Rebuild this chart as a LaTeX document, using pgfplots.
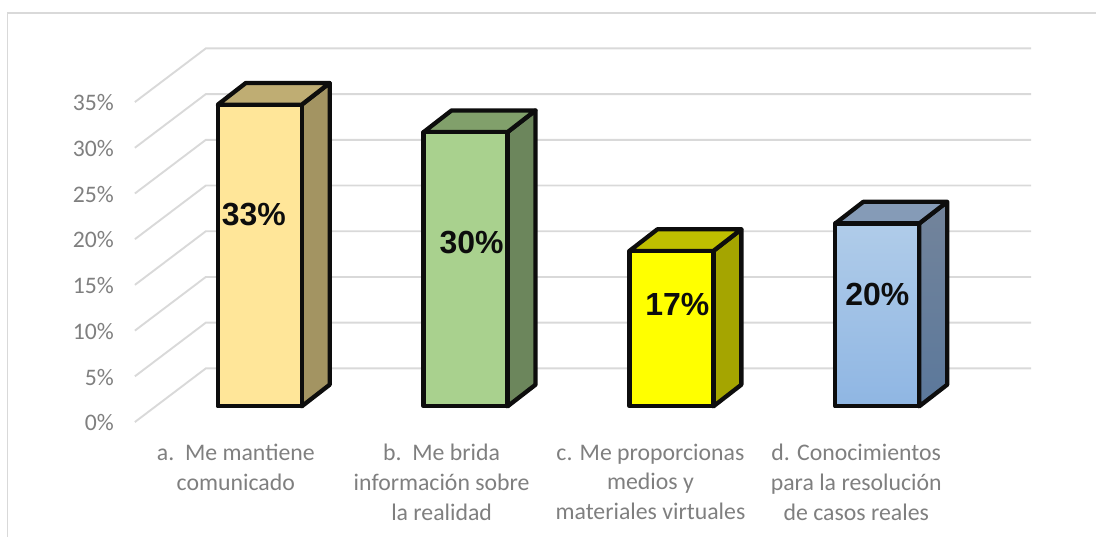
\documentclass[border=0pt]{standalone}
\usepackage{pgfplots}
\pgfplotsset{compat=1.18}
\usepackage{fontspec}
\setmainfont{Carlito}
\newfontfamily\arialb{Liberation Sans}[Scale=1]
\definecolor{gridc}{HTML}{D9D9D9}
\definecolor{ticktxt}{HTML}{7F7F7F}
\definecolor{edge}{HTML}{0D0D0D}
\begin{document}
\begin{tikzpicture}
\begin{axis}[
  at={(0,0)}, anchor=south west,
  scale only axis, width=1097pt, height=537pt,
  xmin=0, xmax=1097, ymin=-14.24, ymax=44.448,
  axis line style={draw=none},
  tick style={draw=none},
  clip=false,
  ytick={0,5,10,15,20,25,30,35},
  yticklabels={0\%,5\%,10\%,15\%,20\%,25\%,30\%,35\%},
  yticklabel style={font=\fontsize{23.7}{26}\selectfont, text=ticktxt, anchor=east, xshift=117.5pt, yshift=-16.5pt},
  xtick={236,442,651,857},
  xticklabels={a.\ \ Me mantiene\\comunicado,b.\ \ Me brida\\información sobre\\la realidad,c. Me proporcionas\\medios y\\materiales virtuales,d. Conocimientos\\para la resolución\\de casos reales},
  xticklabel style={font=\fontsize{23.8}{30}\selectfont, text=ticktxt, align=center, anchor=north, yshift=96.5pt},
  no markers,
]
% frame
\addplot[color=gridc, line width=1.9pt] coordinates {(7.5,-14.24) (7.5,43.0) (1097,43.0)};
% gridlines
\addplot[color=gridc, line width=1.9pt] coordinates {(135,-1.716) (206,4.153) (1032,4.153)};
\addplot[color=gridc, line width=1.9pt] coordinates {(135,3.284) (206,9.153) (1032,9.153)};
\addplot[color=gridc, line width=1.9pt] coordinates {(135,8.284) (206,14.153) (1032,14.153)};
\addplot[color=gridc, line width=1.9pt] coordinates {(135,13.284) (206,19.153) (1032,19.153)};
\addplot[color=gridc, line width=1.9pt] coordinates {(135,18.284) (206,24.153) (1032,24.153)};
\addplot[color=gridc, line width=1.9pt] coordinates {(135,23.284) (206,29.153) (1032,29.153)};
\addplot[color=gridc, line width=1.9pt] coordinates {(135,28.284) (206,34.153) (1032,34.153)};
\addplot[color=gridc, line width=1.9pt] coordinates {(135,33.284) (206,39.153) (1032,39.153)};
% bar a (33)
\addplot[draw=edge, line width=4.3pt, line join=round, fill={rgb,255:red,163;green,148;blue,98}] coordinates {(302,0) (330,2.37) (330,35.37) (302,33)} --cycle;
\addplot[draw=edge, line width=4.3pt, line join=round, fill={rgb,255:red,191;green,173;blue,115}] coordinates {(218,33) (302,33) (330,35.37) (246,35.37)} --cycle;
\addplot[draw=edge, line width=4.3pt, line join=round, fill={rgb,255:red,255;green,230;blue,153}] coordinates {(218,0) (302,0) (302,33) (218,33)} --cycle;
% bar b (30)
\addplot[draw=edge, line width=4.3pt, line join=round, fill={rgb,255:red,108;green,134;blue,92}] coordinates {(508,0) (536,2.37) (536,32.37) (508,30)} --cycle;
\addplot[draw=edge, line width=4.3pt, line join=round, fill={rgb,255:red,129;green,160;blue,107}] coordinates {(424,30) (508,30) (536,32.37) (452,32.37)} --cycle;
\addplot[draw=edge, line width=4.3pt, line join=round, fill={rgb,255:red,169;green,209;blue,142}] coordinates {(424,0) (508,0) (508,30) (424,30)} --cycle;
% bar c (17)
\addplot[draw=edge, line width=4.3pt, line join=round, fill={rgb,255:red,165;green,165;blue,0}] coordinates {(714,0) (742,2.37) (742,19.37) (714,17)} --cycle;
\addplot[draw=edge, line width=4.3pt, line join=round, fill={rgb,255:red,191;green,191;blue,0}] coordinates {(630,17) (714,17) (742,19.37) (658,19.37)} --cycle;
\addplot[draw=edge, line width=4.3pt, line join=round, fill={rgb,255:red,255;green,255;blue,0}] coordinates {(630,0) (714,0) (714,17) (630,17)} --cycle;
% bar d (20)
\addplot[draw=edge, line width=4.3pt, line join=round, shade, top color={rgb,255:red,115;green,132;blue,155}, bottom color={rgb,255:red,91;green,120;blue,155}] coordinates {(920,0) (948,2.37) (948,22.37) (920,20)} --cycle;
\addplot[draw=edge, line width=4.3pt, line join=round, fill={rgb,255:red,133;green,155;blue,183}] coordinates {(836,20) (920,20) (948,22.37) (864,22.37)} --cycle;
\addplot[draw=edge, line width=4.3pt, line join=round, shade, top color={rgb,255:red,176;green,204;blue,233}, bottom color={rgb,255:red,143;green,182;blue,227}] coordinates {(836,0) (920,0) (920,20) (836,20)} --cycle;
% data labels
\node[font=\arialb\bfseries\fontsize{32}{34}\selectfont, text=edge] at (axis cs:254,20.98) {33\%};
\node[font=\arialb\bfseries\fontsize{32}{34}\selectfont, text=edge] at (axis cs:472,17.9) {30\%};
\node[font=\arialb\bfseries\fontsize{32}{34}\selectfont, text=edge] at (axis cs:678,11.15) {17\%};
\node[font=\arialb\bfseries\fontsize{32}{34}\selectfont, text=edge] at (axis cs:878,12.24) {20\%};
\end{axis}
\end{tikzpicture}
\end{document}
